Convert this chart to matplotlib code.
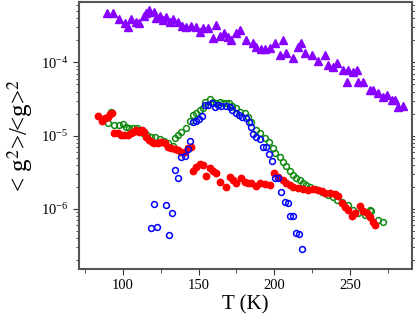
import matplotlib
matplotlib.use('Agg')
import matplotlib.pyplot as plt
from matplotlib.ticker import MultipleLocator, LogLocator

plt.rcParams['font.family'] = ['Liberation Serif', 'DejaVu Serif']
plt.rcParams['mathtext.fontset'] = 'stix'

# purple triangles
T_purple = [89.4, 93.4, 97.4, 101.3, 103.5, 105.7, 108.8, 111.0, 113.7, 115.4, 117.6, 120.3,
            122.0, 124.3, 126.5, 128.7, 130.9, 133.1, 136.4, 139.2, 141.9, 145.2, 148.5, 150.7,
            152.9, 156.2, 159.5, 161.7, 163.9, 166.6, 169.4, 171.6, 175.0, 177.2, 181.6, 186.0,
            188.2, 191.5, 193.7, 197.0, 200.3, 203.6, 205.8, 208.0, 212.4, 215.7, 217.9, 220.1,
            224.6, 228.9, 233.4, 235.6, 238.9, 241.1, 245.5, 247.7, 248.8, 252.1, 254.3, 255.4,
            258.7, 263.1, 265.3, 268.6, 272.0, 274.2, 277.5, 279.7, 281.9, 285.2]
g_purple = [4.69e-4, 4.69e-4, 3.88e-4, 3.43e-4, 3.08e-4, 3.88e-4, 3.60e-4, 3.43e-4, 4.31e-4, 4.69e-4,
            5.21e-4, 4.94e-4, 4.01e-4, 4.31e-4, 3.80e-4, 4.23e-4, 3.60e-4, 3.88e-4, 3.60e-4, 3.15e-4,
            3.08e-4, 3.15e-4, 3.08e-4, 2.64e-4, 2.92e-4, 2.92e-4, 2.14e-4, 3.25e-4, 2.30e-4, 2.50e-4,
            2.25e-4, 2.03e-4, 2.50e-4, 2.78e-4, 2.03e-4, 1.82e-4, 1.64e-4, 1.51e-4, 1.51e-4, 1.56e-4,
            1.82e-4, 1.26e-4, 2.03e-4, 1.33e-4, 1.14e-4, 1.64e-4, 1.82e-4, 1.33e-4, 1.26e-4, 1.03e-4,
            1.26e-4, 9.2e-5, 8.77e-5, 9.7e-5, 7.89e-5, 5.47e-5, 7.89e-5, 7.48e-5, 7.89e-5, 5.47e-5,
            5.47e-5, 4.21e-5, 4.21e-5, 3.78e-5, 3.41e-5, 3.60e-5, 3.07e-5, 3.07e-5, 2.49e-5, 2.54e-5]

# green open circles
T_green = [90.5, 92.3, 94.5, 97.4, 100.0, 102.2, 104.4, 106.6, 109.5, 111.5, 113.5, 116.0,
           118.5, 121.0, 124.3, 127.0, 130.0, 133.0, 134.2, 136.4, 138.6, 141.5, 144.1, 146.3,
           148.5, 150.7, 152.9, 154.0, 157.3, 159.5, 161.7, 163.9, 166.1, 168.3, 170.1, 172.4,
           175.0, 177.2, 180.5, 182.7, 184.9, 188.2, 190.4, 193.7, 196.3, 199.2, 200.7, 203.6,
           205.8, 208.0, 210.2, 212.4, 214.6, 216.8, 219.0, 221.2, 223.4, 227.2, 231.3, 235.7,
           239.0, 241.2, 244.5, 248.8, 252.1, 255.4, 259.8, 263.1, 264.2, 268.6, 271.9]
g_green = [1.47e-5, 2.10e-5, 1.40e-5, 1.40e-5, 1.44e-5, 1.33e-5, 1.26e-5, 1.26e-5, 1.26e-5, 1.20e-5,
           1.10e-5, 1.02e-5, 9.7e-6, 9.5e-6, 8.9e-6, 8.3e-6, 7.9e-6, 7.2e-6, 9.3e-6, 1.02e-5,
           1.13e-5, 1.26e-5, 1.60e-5, 1.92e-5, 2.02e-5, 2.24e-5, 2.36e-5, 2.91e-5, 3.13e-5, 2.91e-5,
           2.82e-5, 2.91e-5, 2.77e-5, 2.82e-5, 2.82e-5, 2.54e-5, 2.36e-5, 2.13e-5, 2.02e-5, 1.82e-5,
           1.55e-5, 1.19e-5, 1.08e-5, 9.2e-6, 8.28e-6, 6.71e-6, 5.86e-6, 5.16e-6, 4.41e-6, 3.85e-6,
           3.33e-6, 2.90e-6, 2.61e-6, 2.48e-6, 2.23e-6, 2.12e-6, 2.01e-6, 1.86e-6, 1.72e-6, 1.55e-6,
           1.47e-6, 1.32e-6, 1.25e-6, 1.13e-6, 9.66e-7, 8.69e-7, 8.24e-7, 9.66e-7, 9.2e-7, 7.05e-7, 6.69e-7]

# blue open circles
T_blue = [118.7, 120.5, 122.7, 128.7, 130.6, 132.6, 134.6, 136.6, 138.6, 140.8, 143.0, 144.5,
          146.3, 148.1, 150.3, 152.0, 154.0, 156.4, 158.6, 160.8, 163.0, 165.0, 168.3, 170.5,
          172.4, 174.5, 176.8, 179.0, 181.2, 183.4, 184.4, 186.0, 188.2, 190.4, 192.6, 194.8,
          196.6, 198.8, 200.3, 202.5, 204.7, 206.9, 209.1, 210.2, 212.4, 214.2, 216.4, 218.6]
g_blue = [5.42e-7, 1.16e-6, 5.71e-7, 1.13e-6, 4.35e-7, 8.87e-7, 3.40e-6, 2.61e-6, 5.06e-6, 5.27e-6,
          6.51e-6, 8.55e-6, 1.55e-5, 1.60e-5, 1.67e-5, 1.85e-5, 2.62e-5, 2.62e-5, 2.77e-5, 2.44e-5,
          2.62e-5, 2.54e-5, 2.54e-5, 2.49e-5, 2.24e-5, 2.06e-5, 1.92e-5, 1.82e-5, 1.73e-5, 1.55e-5,
          1.33e-5, 1.04e-5, 9.7e-6, 8.9e-6, 7.08e-6, 7.08e-6, 5.62e-6, 4.55e-6, 2.61e-6, 2.61e-6,
          1.72e-6, 1.22e-6, 1.19e-6, 8.0e-7, 8.0e-7, 4.63e-7, 4.49e-7, 2.83e-7]

# red filled circles
T_red = [83.9, 86.1, 88.3, 90.5, 91.8, 92.7, 94.5, 96.7, 98.9, 101.1, 103.3, 105.5, 106.6, 108.8,
         111.0, 112.8, 114.3, 115.4, 117.6, 119.4, 120.9, 123.1, 125.4, 127.6, 129.8, 132.0, 134.2,
         136.4, 138.6, 140.8, 143.0, 145.2, 146.3, 148.5, 150.7, 152.9, 154.7, 157.3, 159.5, 161.7,
         164.4, 168.3, 170.5, 172.8, 175.0, 178.3, 180.5, 182.7, 184.9, 188.2, 190.4, 193.7, 197.0,
         199.6, 202.5, 205.8, 208.0, 210.2, 212.4, 215.7, 219.0, 222.4, 225.7, 229.0, 231.2, 233.4,
         236.7, 240.0, 242.2, 244.4, 246.6, 248.8, 251.0, 253.2, 256.5, 258.7, 260.9, 263.1, 265.3, 266.4]
g_red = [1.88e-5, 1.60e-5, 1.73e-5, 1.78e-5, 1.95e-5, 2.06e-5, 1.08e-5, 1.08e-5, 1.02e-5, 1.02e-5,
         1.02e-5, 1.08e-5, 1.13e-5, 1.19e-5, 1.13e-5, 1.19e-5, 1.13e-5, 9.7e-6, 8.73e-6, 8.28e-6,
         7.86e-6, 7.86e-6, 8.28e-6, 7.86e-6, 7.08e-6, 6.71e-6, 6.51e-6, 6.37e-6, 6.04e-6, 6.04e-6,
         6.71e-6, 7.08e-6, 3.33e-6, 3.77e-6, 4.10e-6, 3.97e-6, 2.81e-6, 3.58e-6, 3.33e-6, 3.12e-6,
         2.35e-6, 2.01e-6, 2.75e-6, 2.48e-6, 2.23e-6, 2.61e-6, 2.35e-6, 2.28e-6, 2.23e-6, 2.05e-6,
         2.23e-6, 2.16e-6, 2.12e-6, 3.06e-6, 2.70e-6, 2.48e-6, 2.23e-6, 2.12e-6, 2.01e-6, 1.91e-6,
         1.85e-6, 1.81e-6, 1.85e-6, 1.81e-6, 1.75e-6, 1.63e-6, 1.63e-6, 1.58e-6, 1.51e-6, 1.19e-6,
         1.07e-6, 9.66e-7, 8.0e-7, 8.87e-7, 1.09e-6, 9.45e-7, 8.69e-7, 7.82e-7, 6.69e-7, 6.02e-7]

fig = plt.figure(figsize=(4.15, 3.23), dpi=100)
ax = fig.add_axes([0.190, 0.167, 0.803, 0.827])

ax.plot(T_purple, g_purple, linestyle='none', marker='^', markersize=5.5,
        color='#8800ff', markeredgecolor='#8800ff')
ax.plot(T_green, g_green, linestyle='none', marker='o', markersize=4.2,
        markerfacecolor='none', markeredgecolor='#118a11', markeredgewidth=1.1)
ax.plot(T_red, g_red, linestyle='none', marker='o', markersize=4.6,
        color='#ff0000', markeredgecolor='#ff0000')
ax.plot(T_blue, g_blue, linestyle='none', marker='o', markersize=4.2,
        markerfacecolor='none', markeredgecolor='#0000ff', markeredgewidth=1.1)

ax.set_yscale('log')
ax.set_xlim(71, 291)
ax.set_ylim(1.5e-7, 6.7e-4)

ax.xaxis.set_major_locator(MultipleLocator(50))
ax.xaxis.set_minor_locator(MultipleLocator(25))
ax.yaxis.set_major_locator(LogLocator(base=10, numticks=10))
ax.yaxis.set_minor_locator(LogLocator(base=10, subs=range(2, 10), numticks=10))
ax.yaxis.set_minor_formatter(plt.NullFormatter())

for s in ax.spines.values():
    s.set_color('#555555')
    s.set_linewidth(1.5)

ax.tick_params(axis='both', which='both', direction='out', color='#333333', labelsize=10.5)
ax.tick_params(axis='x', which='major', length=4, top=False)
ax.tick_params(axis='x', which='minor', length=3, top=False)
ax.tick_params(axis='y', which='major', length=4, right=True)
ax.tick_params(axis='y', which='minor', length=2.5, right=True)

ax.set_xlabel('T (K)', fontsize=15, labelpad=2)
ax.set_ylabel(r'< g$^{2}$>/<g>$^{2}$', fontsize=18, labelpad=4)

fig.savefig('out.png', dpi=100)
